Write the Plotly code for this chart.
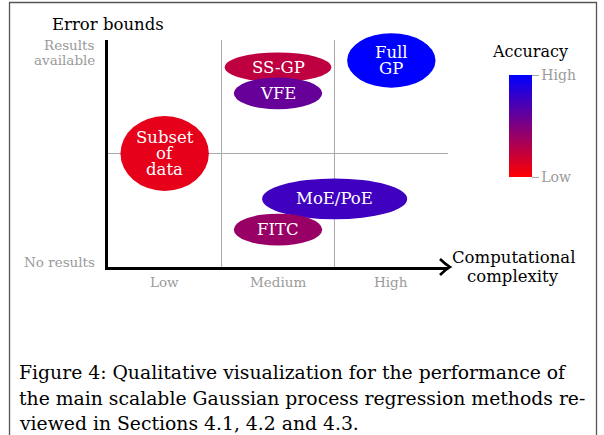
import plotly.graph_objects as go
from plotly.colors import sample_colorscale

# ---------------- data ----------------
methods = ["Subset<br>of<br>data", "SS-GP", "VFE", "Full<br>GP", "MoE/PoE", "FITC"]
complexity = [0.5, 1.5, 1.5, 2.5, 2.0, 1.5]          # 0..3 (Low / Medium / High bands)
error_bounds = [1.0, 1.76, 1.53, 1.82, 0.60, 0.33]   # 0 = no results, 2 = results available
accuracy = [0.10, 0.25, 0.60, 1.00, 0.75, 0.40]      # 0 = low, 1 = high

complexity_labels = ["Low", "Medium", "High"]
complexity_centres = [0.5, 1.5, 2.5]
accuracy_ticks = [0, 1]
accuracy_labels = ["Low", "High"]

caption_lines = ["Figure 4: Qualitative visualization for the performance of",
                 "the main scalable Gaussian process regression methods re-",
                 "viewed in Sections 4.1, 4.2 and 4.3."]

# ---------------- style ----------------
W, H = 604, 435
FONT = "DejaVu Serif"
GREY = "#9a9a9a"
colorscale = [[0, "rgb(255,0,0)"], [1, "rgb(0,0,255)"]]
# ellipse half-sizes (data units), same order as methods
half_w = [0.39, 0.47, 0.39, 0.39, 0.64, 0.39]
half_h = [0.33, 0.13, 0.14, 0.24, 0.18, 0.14]
draw_order = [0, 1, 2, 3, 4, 5]

# plot area in pixels
PX_L, PX_R, PX_T, PX_B = 108, 448, 40, 267
Y_MIN, Y_MAX = 0, 2
px_per_unit = (PX_B - PX_T) / (Y_MAX - Y_MIN)
# an invisible companion axis with the same scale but the whole height, so ellipses aren't clipped
y2_range = [Y_MIN - (H - PX_B) / px_per_unit, Y_MAX + PX_T / px_per_unit]

fig = go.Figure()

# colour bar carrier
fig.add_trace(go.Scatter(
    x=[None], y=[None], mode="markers", showlegend=False, hoverinfo="skip",
    marker=dict(color=[0, 1], cmin=0, cmax=1, colorscale=colorscale, showscale=True,
                colorbar=dict(
                    x=509 / W, xanchor="left", xpad=0,
                    y=1 - 75 / H, yanchor="top", ypad=0,
                    lenmode="pixels", len=102, thicknessmode="pixels", thickness=23,
                    outlinewidth=0, ticks="outside", ticklen=7, tickwidth=1,
                    tickcolor="#aaaaaa", tickvals=accuracy_ticks, ticktext=accuracy_labels,
                    tickfont=dict(family=FONT, size=14, color=GREY),
                ))))
fig.add_trace(go.Scatter(x=[None], y=[None], xaxis="x2", yaxis="y2", showlegend=False,
                         hoverinfo="skip", mode="markers"))

shapes = []
annotations = []


def add_lines(lines, x, y, size, color, spacing, xref="x", yref="y",
              xanchor="center", xshift=0, yshift=0):
    n = len(lines)
    for i, t in enumerate(lines):
        off = ((n - 1) / 2 - i) * spacing
        annotations.append(dict(
            x=x, y=y, xref=xref, yref=yref, text=t, showarrow=False,
            xanchor=xanchor, yanchor="middle", xshift=xshift, yshift=yshift + off,
            font=dict(family=FONT, size=size, color=color)))


for i in draw_order:
    col = sample_colorscale(colorscale, [accuracy[i]])[0]
    shapes.append(dict(
        type="circle", xref="x2", yref="y2", layer="above",
        x0=complexity[i] - half_w[i], x1=complexity[i] + half_w[i],
        y0=error_bounds[i] - half_h[i], y1=error_bounds[i] + half_h[i],
        fillcolor=col, line=dict(width=0)))
    add_lines(methods[i].split("<br>"), complexity[i], error_bounds[i], 16.5, "white", 16)

# x-axis arrow head
shapes.append(dict(type="path", xref="paper", yref="paper", xsizemode="pixel", ysizemode="pixel",
                   xanchor=PX_R / W, yanchor=1 - PX_B / H,
                   path="M -8,8 Q -3,3 2,0 Q -3,-3 -8,-8",
                   line=dict(color="black", width=2.6), layer="above"))

# border around figure
shapes.append(dict(type="rect", xref="paper", yref="paper",
                   x0=9.5 / W, x1=596.5 / W, y0=-0.05, y1=1 - 2.5 / H,
                   line=dict(color="#555555", width=1.3), fillcolor="rgba(0,0,0,0)"))

# axis labels
add_lines(["Error bounds"], 0, 2, 16.5, "black", 0, yshift=16)
add_lines(["Results", "available"], 0, 2, 13.5, GREY, 15, xanchor="right", xshift=-11, yshift=-12)
add_lines(["No results"], 0, 0, 13.5, GREY, 0, xanchor="right", xshift=-11, yshift=5)
for c, lab in zip(complexity_centres, complexity_labels):
    add_lines([lab], c, 0, 13.5, GREY, 0, yshift=-15)
add_lines(["Computational", "complexity"], 513 / W, 1 - 266.5 / H, 16.5, "black", 19,
          xref="paper", yref="paper")
add_lines(["Accuracy"], 530 / W, 1 - 52 / H, 16, "black", 0, xref="paper", yref="paper")

add_lines(caption_lines, 17 / W, 1 - 398 / H, 18.8, "black", 25.5,
          xref="paper", yref="paper", xanchor="left")

fig.update_layout(
    width=W, height=H, margin=dict(l=0, r=0, t=0, b=0),
    paper_bgcolor="white", plot_bgcolor="rgba(0,0,0,0)",
    showlegend=False, shapes=shapes, annotations=annotations,
    xaxis=dict(domain=[PX_L / W, PX_R / W], range=[0, 3], showgrid=False, zeroline=False,
               showticklabels=False, ticks="", showline=True, linewidth=3, linecolor="black",
               minor=dict(tickvals=[1, 2, 3], showgrid=True, gridcolor="#aaaaaa", gridwidth=1),
               fixedrange=True),
    yaxis=dict(domain=[1 - PX_B / H, 1 - PX_T / H], range=[Y_MIN, Y_MAX], showgrid=False,
               zeroline=False, showticklabels=False, ticks="", showline=True, linewidth=3,
               linecolor="black",
               minor=dict(tickvals=[1], showgrid=True, gridcolor="#aaaaaa", gridwidth=1),
               fixedrange=True),
    xaxis2=dict(domain=[PX_L / W, PX_R / W], range=[0, 3], anchor="y2", visible=False,
                fixedrange=True),
    yaxis2=dict(domain=[0, 1], range=y2_range, anchor="x2", visible=False, fixedrange=True),
)

fig.write_html("out.html", config={"displayModeBar": False},
               post_script="document.body.style.margin='0px';document.body.style.overflow='hidden';")
